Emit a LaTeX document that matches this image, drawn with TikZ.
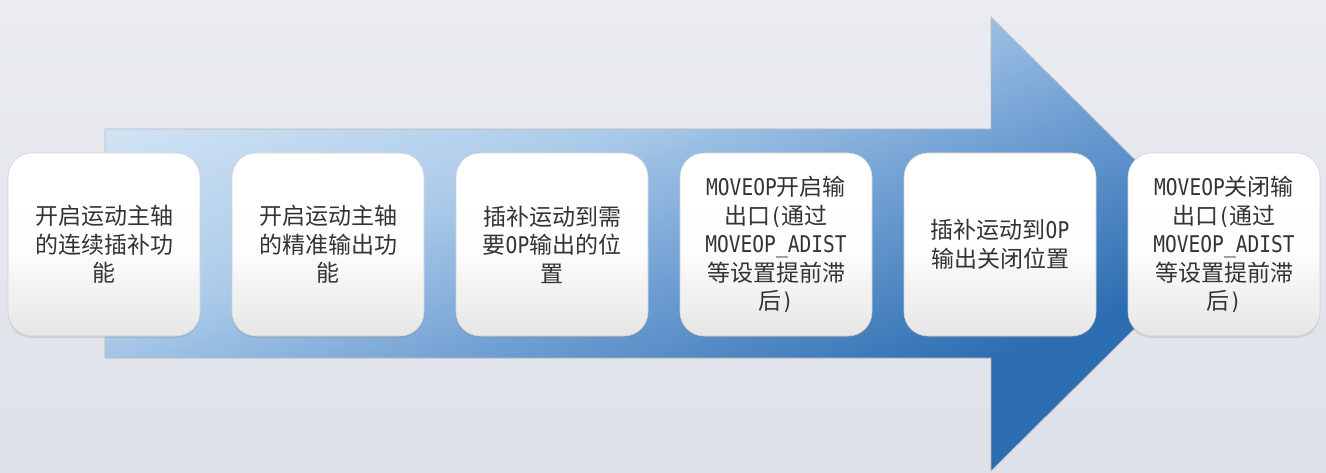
\documentclass[tikz,border=0pt]{standalone}
\usepackage{fontspec}
\setmainfont{Noto Sans CJK SC}
\newfontfamily\latfont[FakeStretch=0.85]{DejaVu Sans Mono}
\newcommand\mylat[1]{{\latfont #1}}
\usetikzlibrary{shadows}
\definecolor{bgtop}{HTML}{EAECF1}
\definecolor{bgbot}{HTML}{DEE1E8}
\definecolor{arrlight}{HTML}{D2E4F4}
\definecolor{arrlight2}{HTML}{ADCCEA}
\definecolor{arrmid}{HTML}{6E9ED2}
\definecolor{arrdark}{HTML}{2C6DB1}
\definecolor{boxbot}{HTML}{E6E6E6}
\definecolor{txt}{HTML}{333333}
\pgfdeclareverticalshading{arrshade}{100bp}{color(0bp)=(arrdark); color(32bp)=(arrdark); color(47bp)=(arrmid); color(60bp)=(arrlight2); color(75bp)=(arrlight); color(100bp)=(arrlight)}
\tikzset{
  stepbox/.style={rounded corners=24pt, minimum width=192pt, minimum height=183pt,
    inner sep=0pt, align=center, text=txt,
    top color=white, bottom color=boxbot, middle color=white!97!boxbot,
    draw=gray!35, line width=0.6pt,
    drop shadow={opacity=0.22, shadow xshift=0pt, shadow yshift=-2pt},
    font=\fontsize{23pt}{28.5pt}\selectfont},
  bigarrow/.style={shading=arrshade, shading angle=22,
    draw=gray!55, line width=0.7pt}
}
\begin{document}
\begin{tikzpicture}[x=1pt,y=-1pt]
\fill[top color=bgtop, bottom color=bgbot] (0,0) rectangle (1326,473);
\useasboundingbox (0,0) rectangle (1326,473);
\path[bigarrow] (105,129) -- (991,129) -- (991,17) -- (1220,244) -- (991,471) -- (991,358) -- (105,358) -- cycle;
\node[stepbox] (s1) at (104,244.5) {开启运动主轴\\的连续插补功\\能};
\node[stepbox] (s2) at (328,244.5) {开启运动主轴\\的精准输出功\\能};
\node[stepbox] (s3) at (552,244.5) {插补运动到需\\要\mylat{OP}输出的位\\置};
\node[stepbox] (s4) at (776,244.5) {\mylat{MOVEOP}开启输\\出口\mylat{(}通过\\\mylat{MOVEOP\_ADIST}\\等设置提前滞\\后\mylat{)}};
\node[stepbox] (s5) at (1000,244.5) {插补运动到\mylat{OP}\\输出关闭位置};
\node[stepbox] (s6) at (1224,244.5) {\mylat{MOVEOP}关闭输\\出口\mylat{(}通过\\\mylat{MOVEOP\_ADIST}\\等设置提前滞\\后\mylat{)}};
\end{tikzpicture}
\end{document}
